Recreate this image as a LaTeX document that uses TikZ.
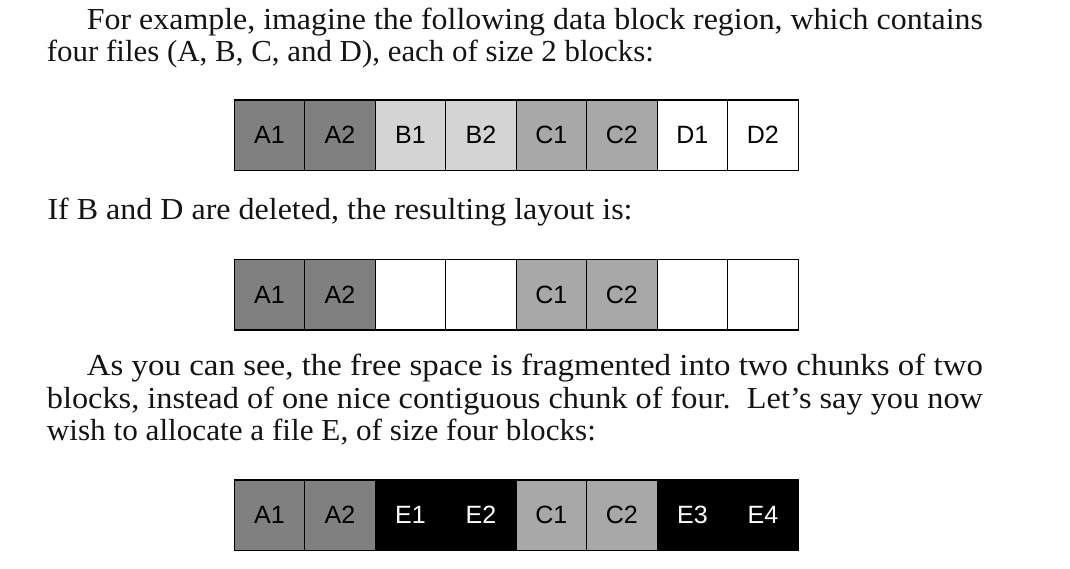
\documentclass[tikz,border=0pt]{standalone}
\usepackage{fontspec}
\usepackage{graphicx}
\setmainfont{Liberation Serif}
\setsansfont{Liberation Sans}
\definecolor{agray}{gray}{0.50}
\definecolor{bgray}{gray}{0.83}
\definecolor{cgray}{gray}{0.66}
\definecolor{inkc}{gray}{0.08}
\newcommand{\bodyfont}{\rmfamily\fontsize{30.5}{34}\selectfont}
\newcommand{\blockfont}{\sffamily\fontsize{25}{28}\selectfont}
\newcommand{\fitline}[2]{\resizebox{#1}{\height}{#2}}
\begin{document}
\begin{tikzpicture}[x=1pt,y=-1pt,
  blk/.style={draw=black,line width=1.3pt,minimum width=70.5pt,minimum height=70.5pt,
              inner sep=0pt,anchor=north west,font=\blockfont},
  para/.style={anchor=base west,inner sep=0pt,font=\bodyfont,text=inkc}]
\useasboundingbox (0,0) rectangle (1070,568);
\fill[white] (0,0) rectangle (1070,568);

% text
\node[para] (t1) at (86.7,29) {\fitline{896pt}{For example, imagine the following data block region, which contains}};
\node[para] (t2) at (46.7,61) {\fitline{607pt}{four files (A, B, C, and D), each of size 2 blocks:}};
\node[para] (t3) at (47.3,219.5) {\fitline{585pt}{If B and D are deleted, the resulting layout is:}};
\node[para] (t4) at (86.7,375) {\fitline{896pt}{As you can see, the free space is fragmented into two chunks of two}};
\node[para] (t5) at (46.7,408) {\fitline{936pt}{blocks, instead of one nice contiguous chunk of four.\ \ Let’s say you now}};
\node[para] (t6) at (46.7,440.5) {\fitline{549pt}{wish to allocate a file E, of size four blocks:}};

% row 1
\foreach \lab/\col/\tc [count=\i from 0] in {A1/agray/black,A2/agray/black,B1/bgray/black,B2/bgray/black,C1/cgray/black,C2/cgray/black,D1/white/black,D2/white/black}
  \node[blk,fill=\col,text=\tc] (r1b\i) at (233.5+\i*70.5,99.3) {\lab};

% row 2
\foreach \lab/\col/\tc [count=\i from 0] in {A1/agray/black,A2/agray/black,/white/black,/white/black,C1/cgray/black,C2/cgray/black,/white/black,/white/black}
  \node[blk,fill=\col,text=\tc] (r2b\i) at (233.5+\i*70.5,258.7) {\lab};

% row 3
\foreach \lab/\col/\tc [count=\i from 0] in {A1/agray/black,A2/agray/black,E1/black/white,E2/black/white,C1/cgray/black,C2/cgray/black,E3/black/white,E4/black/white}
  \node[blk,fill=\col,text=\tc] (r3b\i) at (233.5+\i*70.5,479.3) {\lab};
\end{tikzpicture}
\end{document}
